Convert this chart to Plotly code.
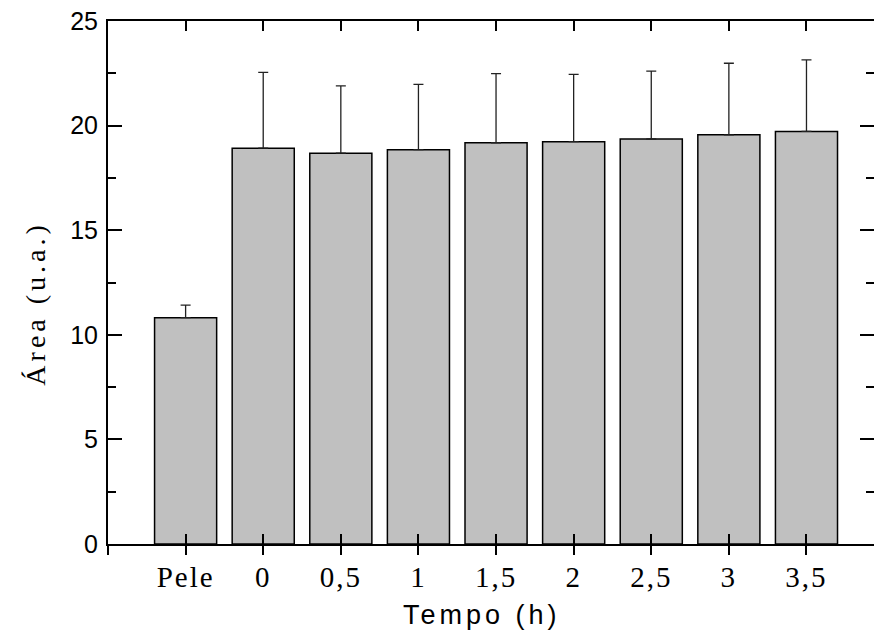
import plotly.graph_objects as go

# Área média por tempo de exposição (barras) e desvio padrão (barra de erro superior)
categorias = ["Pele", "0", "0,5", "1", "1,5", "2", "2,5", "3", "3,5"]
area = [10.82, 18.92, 18.68, 18.85, 19.18, 19.23, 19.36, 19.56, 19.72]
desvio = [0.60, 3.62, 3.22, 3.12, 3.30, 3.22, 3.24, 3.42, 3.42]

y_ticks = [0, 5, 10, 15, 20, 25]

pos = list(range(len(categorias)))
x_range = [-1, 8.87]
y_range = [0, 25]

fig = go.Figure()
fig.add_trace(go.Bar(
    x=pos, y=area, width=0.8,
    marker=dict(color="#c0c0c0", line=dict(color="#000000", width=1.5)),
    error_y=dict(type="data", symmetric=False, array=desvio,
                 arrayminus=[0] * len(area), color="#222222",
                 thickness=1.3, width=5),
    showlegend=False,
))

axis_line = dict(showline=True, linecolor="#000000", linewidth=2,
                 showgrid=False, zeroline=False)

fig.update_layout(
    width=874, height=642,
    margin=dict(l=108, r=0, t=21, b=98),
    paper_bgcolor="#ffffff", plot_bgcolor="#ffffff",
    bargap=0.2,
    xaxis=dict(
        **axis_line, range=x_range, tickmode="array",
        tickvals=pos, ticktext=categorias,
        ticks="inside", ticklen=10, tickwidth=2, tickcolor="#000000",
        mirror="allticks", ticklabelstandoff=6,
        tickfont=dict(family="Liberation Serif", size=29, color="#000000"),
    ),
    # ticks externos do eixo inferior (cruzam a linha do eixo)
    xaxis2=dict(
        overlaying="x", anchor="y", side="bottom", range=x_range,
        tickmode="array", tickvals=[-1] + pos, showticklabels=False,
        ticks="outside", ticklen=10, tickwidth=2, tickcolor="#000000",
        showline=False, showgrid=False, zeroline=False,
    ),
    yaxis=dict(
        **axis_line, range=y_range, tickmode="array", tickvals=y_ticks,
        ticks="inside", ticklen=14, tickwidth=2, tickcolor="#000000",
        minor=dict(dtick=2.5, ticks="inside", ticklen=8, tickwidth=2,
                   tickcolor="#000000", showgrid=False),
        ticklabelstandoff=3,
        tickfont=dict(family="Liberation Sans", size=25, color="#000000"),
    ),
    # ticks do lado direito, sem linha de eixo
    yaxis2=dict(
        overlaying="y", anchor="x", side="right", range=y_range,
        tickmode="array", tickvals=y_ticks, showticklabels=False,
        ticks="inside", ticklen=14, tickwidth=2, tickcolor="#000000",
        minor=dict(dtick=2.5, ticks="inside", ticklen=8, tickwidth=2,
                   tickcolor="#000000", showgrid=False),
        showline=False, showgrid=False, zeroline=False,
    ),
    annotations=[
        dict(text="Tempo (h)", xref="paper", yref="paper", x=0.488, y=-0.135,
             xanchor="center", yanchor="middle", showarrow=False,
             font=dict(family="Liberation Sans", size=27, color="#000000")),
        dict(text="Área (u.a.)", xref="paper", yref="paper", x=-0.095, y=0.46,
             xanchor="center", yanchor="middle", textangle=-90, showarrow=False,
             font=dict(family="Liberation Serif", size=28, color="#000000")),
    ],
)

# traços vazios para que os eixos auxiliares sejam desenhados
fig.add_trace(go.Scatter(x=[None], y=[None], xaxis="x2", yaxis="y2",
                         showlegend=False, hoverinfo="skip"))

espacamento = """
document.querySelectorAll('.annotation-text').forEach(function(t){
  t.style.letterSpacing = '4px';
});
document.querySelectorAll('.xtick text').forEach(function(t){
  t.style.letterSpacing = '2px';
});
"""

fig.write_html("out.html", post_script=espacamento)
